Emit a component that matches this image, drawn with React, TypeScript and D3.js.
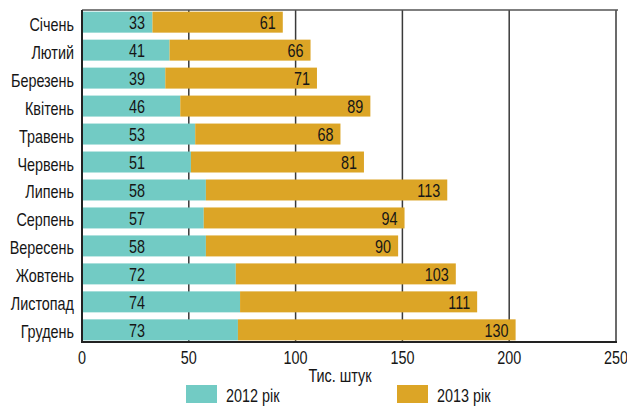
import React, { useEffect, useRef } from "react";
import * as d3 from "d3";

const months = [
  "Січень", "Лютий", "Березень", "Квітень", "Травень", "Червень",
  "Липень", "Серпень", "Вересень", "Жовтень", "Листопад", "Грудень",
];
const values2012 = [33, 41, 39, 46, 53, 51, 58, 57, 58, 72, 74, 73];
const values2013 = [61, 66, 71, 89, 68, 81, 113, 94, 90, 103, 111, 130];
const ticks = [0, 50, 100, 150, 200, 250];
const seriesNames = ["2012 рік", "2013 рік"];
const colors = ["#72cbc4", "#dca526"];

const FONT = "'Liberation Sans', Arial, sans-serif";

function App() {
  const ref = useRef<SVGSVGElement>(null);

  useEffect(() => {
    const width = 627;
    const height = 407;
    const left = 82, right = 616, top = 10, bottom = 342;

    const svg = d3.select(ref.current);
    svg.selectAll("*").remove();
    svg.attr("width", width).attr("height", height);

    // condensed-looking text: squeeze horizontally
    const label = (x: number, y: number, txt: string | number, anchor = "start", size = 18) =>
      svg.append("text")
        .attr("transform", `translate(${x},${y}) scale(0.8,1)`)
        .attr("text-anchor", anchor)
        .style("font-family", FONT)
        .style("font-size", size + "px")
        .attr("fill", "#161616")
        .text(txt);

    const x = d3.scaleLinear().domain([0, 250]).range([left, right]);
    const y = d3.scaleBand().domain(months).range([top, bottom]).paddingInner(0.25).paddingOuter(0.06);

    // grid
    svg.selectAll("line.grid")
      .data(ticks.slice(1))
      .enter()
      .append("line")
      .attr("x1", (d) => x(d)).attr("x2", (d) => x(d))
      .attr("y1", top).attr("y2", bottom)
      .attr("stroke", "#3a3a3a")
      .attr("stroke-width", 1.5);

    // top border
    svg.append("line")
      .attr("x1", left).attr("x2", right + 2)
      .attr("y1", top).attr("y2", top)
      .attr("stroke", "#555").attr("stroke-width", 1.5);

    months.forEach((m, i) => {
      const a = values2012[i];
      const b = values2013[i];
      const y0 = y(m)!;
      const h = y.bandwidth();

      svg.append("rect")
        .attr("x", x(0)).attr("y", y0)
        .attr("width", x(a) - x(0)).attr("height", h)
        .attr("fill", colors[0]);
      svg.append("rect")
        .attr("x", x(a)).attr("y", y0)
        .attr("width", x(a + b) - x(a)).attr("height", h)
        .attr("fill", colors[1]);

      label(137, y0 + h / 2 + 7, a, "middle");
      label(x(a + b) - 7, y0 + h / 2 + 7, b, "end");
      label(74, y0 + h / 2 + 8.5, m, "end");
    });

    // axes lines
    svg.append("line")
      .attr("x1", left).attr("x2", left)
      .attr("y1", top).attr("y2", bottom + 1)
      .attr("stroke", "#222").attr("stroke-width", 2);
    svg.append("line")
      .attr("x1", left).attr("x2", right + 1)
      .attr("y1", bottom).attr("y2", bottom)
      .attr("stroke", "#222").attr("stroke-width", 2);

    // tick labels
    ticks.forEach((t) => label(x(t), 364, t, "middle"));

    label(340, 382, "Тис. штук", "middle");

    // legend
    const legendX = [186, 397];
    seriesNames.forEach((name, i) => {
      svg.append("rect")
        .attr("x", legendX[i]).attr("y", 385)
        .attr("width", 31).attr("height", 18)
        .attr("fill", colors[i]);
      label(legendX[i] + 40, 402, name, "start");
    });
  }, []);

  return <svg ref={ref} style={{ position: "absolute", left: 0, top: 0 }} />;
}

export default App;
